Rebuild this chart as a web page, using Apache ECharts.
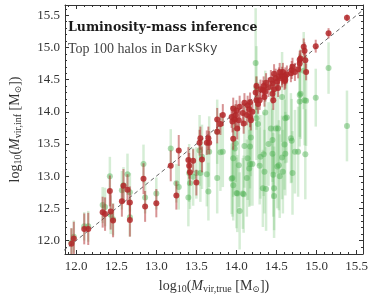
<!DOCTYPE html>
<html><head><meta charset="utf-8">
<script src="https://cdn.jsdelivr.net/npm/echarts@6/dist/echarts.min.js"></script>
<style>html,body{margin:0;padding:0;background:#fff}#c{width:374px;height:299px}</style>
</head><body><div id="c"></div>
<script>
const xTrue = [11.94,11.97,12.10,12.15,12.33,12.36,12.42,12.43,12.46,12.57,
  12.59,12.64,12.67,12.67,12.84,12.86,13.00,13.18,13.25,13.28,
  13.40,13.41,13.42,13.46,13.50,13.54,13.55,13.57,13.63,13.65,
  13.66,13.76,13.76,13.80,13.83,13.94,13.95,13.96,13.96,13.98,
  13.99,14.00,14.01,14.03,14.04,14.08,14.09,14.10,14.13,14.14,
  14.16,14.17,14.17,14.18,14.20,14.24,14.25,14.25,14.27,14.29,
  14.30,14.33,14.34,14.35,14.36,14.37,14.40,14.43,14.45,14.45,
  14.46,14.47,14.47,14.49,14.51,14.52,14.53,14.54,14.57,14.57,
  14.58,14.60,14.61,14.61,14.63,14.68,14.69,14.73,14.77,14.79,
  14.79,14.80,14.84,14.85,14.86,14.87,14.99,15.15,15.38,14.70];
const yRed = [11.95,12.03,12.18,12.18,12.44,12.41,12.77,12.45,12.31,12.61,
  12.85,12.79,12.59,12.32,12.96,12.53,12.58,13.16,12.70,13.40,
  13.25,13.16,13.06,13.24,12.90,13.52,13.59,13.26,13.52,13.59,
  13.52,13.88,13.69,13.81,13.95,13.92,13.85,14.05,13.58,13.88,
  13.95,14.02,13.74,13.87,14.08,13.98,13.82,14.14,13.95,14.10,
  14.04,13.92,14.15,13.87,14.00,14.30,14.18,14.40,14.12,14.18,
  14.35,14.34,14.40,14.23,14.31,14.45,14.38,14.50,14.28,14.44,
  14.18,14.59,14.35,14.52,14.47,14.37,14.55,14.62,14.56,14.52,
  14.62,14.48,14.55,14.50,14.58,14.60,14.65,14.62,14.66,14.75,
  14.81,14.83,15.01,14.95,14.80,14.62,15.02,15.22,15.46,14.70];
const errRed = [0.24,0.26,0.24,0.25,0.24,0.26,0.24,0.28,0.26,0.24,
  0.26,0.24,0.25,0.26,0.24,0.24,0.22,0.24,0.22,0.24,
  0.20,0.20,0.20,0.18,0.20,0.20,0.18,0.20,0.19,0.18,
  0.18,0.18,0.18,0.17,0.17,0.17,0.17,0.17,0.17,0.17,
  0.17,0.16,0.17,0.16,0.17,0.16,0.16,0.15,0.16,0.15,
  0.15,0.16,0.15,0.16,0.15,0.15,0.15,0.15,0.15,0.15,
  0.15,0.15,0.15,0.15,0.15,0.15,0.15,0.15,0.15,0.15,
  0.15,0.15,0.15,0.15,0.14,0.14,0.14,0.14,0.14,0.14,
  0.14,0.14,0.14,0.14,0.14,0.14,0.14,0.14,0.14,0.14,
  0.14,0.13,0.13,0.13,0.13,0.13,0.10,0.08,0.05,0.14];
const yGreen = [11.97,12.06,12.22,12.22,12.55,12.52,13.00,12.40,12.33,12.78,
  12.86,13.03,12.75,12.36,13.19,12.67,12.73,13.43,12.89,12.83,
  12.67,13.05,12.89,12.99,13.05,13.40,13.05,13.30,13.03,12.76,
  13.38,12.97,13.69,13.37,13.38,12.96,12.97,12.86,13.28,13.43,
  13.51,12.74,12.73,13.17,12.46,12.73,12.72,13.47,12.97,13.28,
  13.12,13.19,13.46,13.60,13.19,14.76,14.37,13.90,13.81,13.16,
  13.30,12.81,13.34,13.07,13.99,12.80,13.50,13.74,13.35,13.56,
  13.02,12.81,12.69,13.74,13.15,13.74,13.17,13.00,14.23,13.29,
  13.07,13.49,13.35,13.90,13.91,13.59,13.55,13.38,13.38,14.26,
  14.16,14.28,14.64,14.18,13.34,14.17,14.22,14.68,13.78,13.05];
const errGreen = [0.22,0.25,0.22,0.24,0.28,0.30,0.30,0.30,0.25,0.30,
  0.28,0.32,0.30,0.30,0.30,0.25,0.25,0.30,0.30,0.35,
  0.45,0.45,0.40,0.45,0.40,0.55,0.45,0.50,0.50,0.45,
  0.55,0.55,0.50,0.60,0.55,0.55,0.60,0.55,0.60,0.65,
  0.60,0.55,0.60,0.65,0.60,0.55,0.60,0.65,0.60,0.65,
  0.60,0.65,0.65,0.60,0.65,0.85,0.65,0.65,0.65,0.60,
  0.65,0.60,0.65,0.65,0.65,0.65,0.65,0.70,0.70,0.65,
  0.65,0.65,0.65,0.70,0.65,0.70,0.70,0.65,0.70,0.65,
  0.65,0.70,0.65,0.70,0.70,0.70,0.65,0.65,0.70,0.65,
  0.70,0.70,0.60,0.70,0.70,0.70,0.45,0.40,0.55,0.65];
const majorTicks = [12.0,12.5,13.0,13.5,14.0,14.5,15.0,15.5];
const minorTicks = [11.9,12.0,12.1,12.2,12.3,12.4,12.5,12.6,12.7,12.8,12.9,13.0,13.1,13.2,13.3,13.4,13.5,13.6,13.7,13.8,13.9,14.0,14.1,14.2,14.3,14.4,14.5,14.6,14.7,14.8,14.9,15.0,15.1,15.2,15.3,15.4,15.5,15.6];
const diagLine = [[11.5,11.5],[16.0,16.0]];

const X_MIN = 11.86, X_MAX = 15.58, Y_MIN = 11.79, Y_MAX = 15.66;
const SERIF = '"Liberation Serif", "DejaVu Serif", serif';
const AX = '#333';

function errBar(color, opacity, width) {
  return function (params, api) {
    const p1 = api.coord([api.value(0), api.value(1)]);
    const p2 = api.coord([api.value(0), api.value(2)]);
    return { type: 'line', shape: { x1: p1[0], y1: p1[1], x2: p2[0], y2: p2[1] },
      style: { stroke: color, lineWidth: width, opacity: opacity } };
  };
}
const redPts = xTrue.map((x, i) => [x, yRed[i]]);
const greenPts = xTrue.map((x, i) => [x, yGreen[i]]);
const redBars = xTrue.map((x, i) => [x, yRed[i] - errRed[i], yRed[i] + errRed[i]]);
const greenBars = xTrue.map((x, i) => [x, yGreen[i] - errGreen[i], yGreen[i] + errGreen[i]]);

const nameRich = {
  a: { fontFamily: SERIF, fontSize: 14, color: '#333', lineHeight: 16 },
  i: { fontFamily: SERIF, fontSize: 14, fontStyle: 'italic', color: '#333', lineHeight: 16 },
  s: { fontFamily: SERIF, fontSize: 10, color: '#333', lineHeight: 10, verticalAlign: 'bottom' },
  o: { fontFamily: '"DejaVu Serif", serif', fontSize: 9, color: '#333', lineHeight: 10, verticalAlign: 'bottom' }
};
function axisSet(kind, pos, isMain) {
  const base = {
    type: 'value', min: kind === 'x' ? X_MIN : Y_MIN, max: kind === 'x' ? X_MAX : Y_MAX,
    position: pos, splitLine: { show: false },
    axisLine: { show: true, onZero: false, lineStyle: { color: AX, width: 1 } },
    axisTick: { show: true, inside: true, length: 4, customValues: majorTicks, lineStyle: { color: AX, width: 1 } },
    axisLabel: { show: false }
  };
  const minor = {
    type: 'value', min: base.min, max: base.max, position: pos, splitLine: { show: false },
    axisLine: { show: false, onZero: false },
    axisTick: { show: true, inside: true, length: 2, customValues: minorTicks, lineStyle: { color: AX, width: 1 } },
    axisLabel: { show: false }
  };
  if (isMain) {
    base.axisLabel = { show: true, customValues: majorTicks, formatter: v => Number(v).toFixed(1),
      fontFamily: SERIF, fontSize: 13, color: '#333', margin: kind === 'x' ? 6 : 5 };
    base.nameLocation = 'middle';
    base.nameTextStyle = { rich: nameRich };
    if (kind === 'x') {
      base.name = '{a|log}{s|10}{a|(}{i|M}{s|vir,true}{a| [M}{o|⊙}{a|])}';
      base.nameGap = 24;
    } else {
      base.name = '{a|log}{s|10}{a|(}{i|M}{s|vir,inf}{a| [M}{o|⊙}{a|])}';
      base.nameGap = 42;
    }
  }
  return [base, minor];
}

const chart = echarts.init(document.getElementById('c'), null, { renderer: 'canvas' });
chart.setOption({
  animation: false,
  backgroundColor: '#fff',
  grid: { left: 55, right: 11, top: 5, bottom: 45, containLabel: false },
  xAxis: [...axisSet('x', 'bottom', true), ...axisSet('x', 'top', false)],
  yAxis: [...axisSet('y', 'left', true), ...axisSet('y', 'right', false)],
  graphic: [
    { type: 'text', left: 68, top: 21, z: 100,
      style: { text: 'Luminosity-mass inference', font: 'bold 12.5px "DejaVu Serif", serif', fill: '#1a1a1a' } },
    { type: 'text', left: 68, top: 42, z: 100,
      style: { text: '{a|Top 100 halos in }{m|DarkSky}',
        rich: { a: { fontFamily: SERIF, fontSize: 14, fill: '#444', color: '#444' },
                m: { fontFamily: '"Liberation Mono", "DejaVu Sans Mono", monospace', fontSize: 12.5, fill: '#444', color: '#444' } } } }
  ],
  series: [
    { type: 'custom', name: 'gbar', renderItem: errBar('#5cb85c', 0.26, 2.5), data: greenBars, clip: true, z: 1,
      encode: { x: 0, y: [1, 2] } },
    { type: 'scatter', name: 'gpt', data: greenPts, symbolSize: 6, z: 2,
      itemStyle: { color: '#4caf50', opacity: 0.45 } },
    { type: 'line', name: 'diag', data: diagLine, showSymbol: false, symbol: 'none', z: 3, clip: true,
      lineStyle: { color: '#666', width: 1, type: [4, 3] } },
    { type: 'custom', name: 'rbar', renderItem: errBar('#b0282a', 0.5, 2), data: redBars, clip: true, z: 4,
      encode: { x: 0, y: [1, 2] } },
    { type: 'scatter', name: 'rpt', data: redPts, symbolSize: 6, z: 5,
      itemStyle: { color: '#b3282a', opacity: 0.85 } }
  ]
});
</script></body></html>
